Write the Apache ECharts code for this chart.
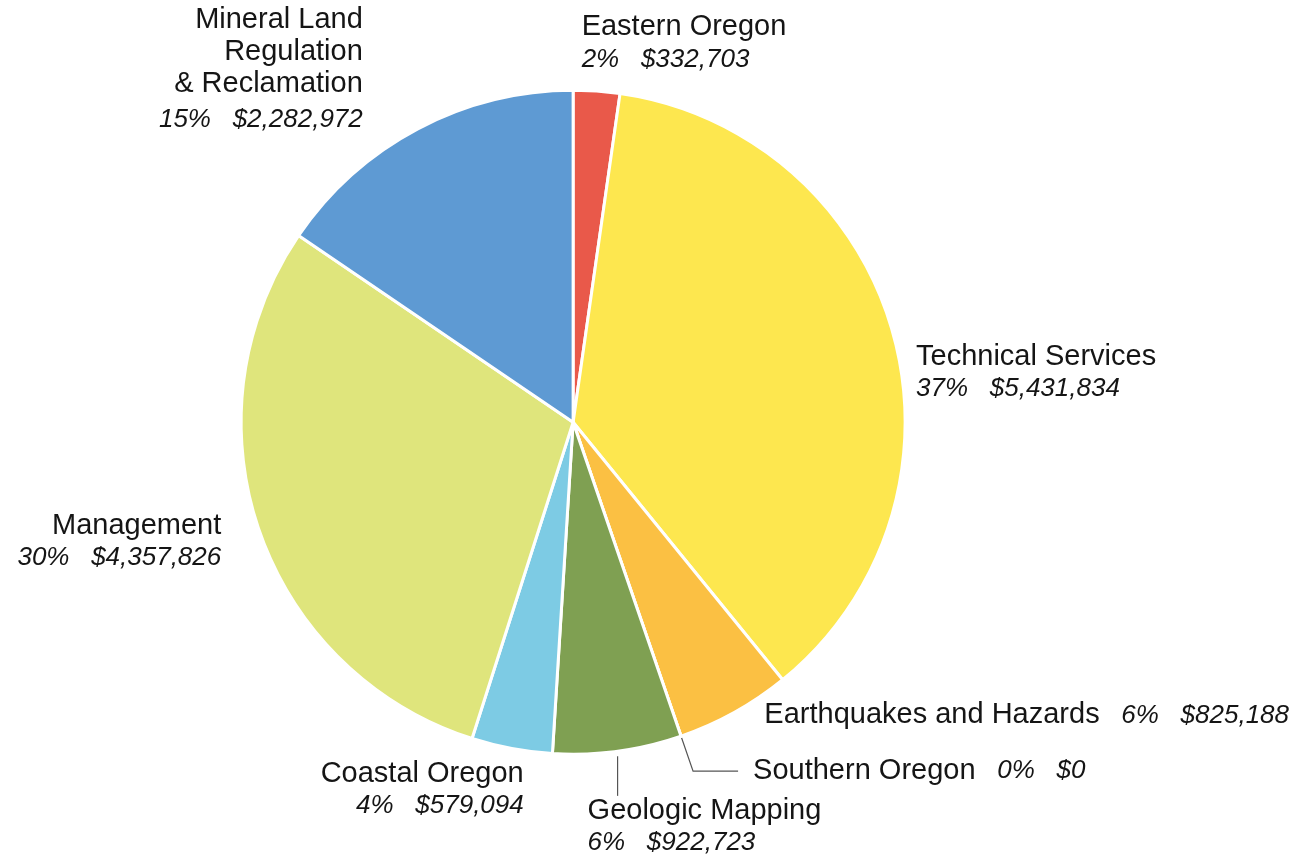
<!DOCTYPE html>
<html>
<head>
<meta charset="utf-8">
<title>Budget by program</title>
<script src="https://cdn.jsdelivr.net/npm/echarts@6/dist/echarts.min.js"></script>
<style>
  html, body { margin: 0; padding: 0; background: #fff; }
  #chart { width: 1304px; height: 860px; }
</style>
</head>
<body>
<div id="chart"></div>
<script>
// slices, clockwise from 12 o'clock
var categories = ['Eastern Oregon', 'Technical Services', 'Earthquakes and Hazards', 'Southern Oregon',
                  'Geologic Mapping', 'Coastal Oregon', 'Management', 'Mineral Land\nRegulation\n& Reclamation'];
var amounts = [332703, 5431834, 825188, 0, 922723, 579094, 4357826, 2282972];

var sliceColors = ['#E9594A', '#FDE74F', '#FBC043', '#FBC043', '#7FA052', '#7DCBE4', '#DFE57C', '#5E9AD3'];
// label nudges [dx, dy] from the default outside spot
var labelOffsets = [[-20, -47], [18, 40], [25, 3], [10, 0], [-41, 32], [17, 42], [-33, 12], [-50, -54]];
var inlineLabel = [false, false, true, true, false, false, false, false];
var leaderLines = [null, null, null, [37, 45], [45, 0], null, null, null];

var total = amounts.reduce(function (a, b) { return a + b; }, 0);

var seriesData = [];
for (var i = 0; i < categories.length; i++) {
    var item = {
        name: categories[i],
        value: amounts[i],
        itemStyle: { color: sliceColors[i] }
    };
    if (leaderLines[i]) {
        item.labelLine = { show: true, length: leaderLines[i][0], length2: leaderLines[i][1] };
    }
    seriesData.push(item);
}

function fmtLabel(p) {
    var idx = p.dataIndex;
    var pct = Math.round(amounts[idx] / total * 100) + '%';
    var money = '$' + amounts[idx].toLocaleString('en-US');
    var nameLines = categories[idx].split('\n').map(function (s) { return '{n|' + s + '}'; }).join('\n');
    if (inlineLabel[idx]) {
        return nameLines + '{v|   ' + pct + '   ' + money + '}';
    }
    var vs = categories[idx].indexOf('\n') >= 0 ? 'vt' : 'v';
    return nameLines + '\n{' + vs + '|' + pct + '   ' + money + '}';
}

var mychart = echarts.init(document.getElementById('chart'));

var fontFam = '"Liberation Sans", Arial, sans-serif';

var option = {
    animation: false,
    backgroundColor: '#fff',
    series: [
        {
            type: 'pie',
            center: ['43.95%', '49.1%'],
            radius: 332,
            startAngle: 90,
            clockwise: true,
            avoidLabelOverlap: false,
            data: seriesData,
            itemStyle: {
                borderColor: '#fff',
                borderWidth: 3
            },
            label: {
                show: true,
                position: 'outside',
                formatter: fmtLabel,
                fontFamily: fontFam,
                color: '#151515',
                rich: {
                    n: { fontSize: 29, lineHeight: 32, color: '#151515', fontFamily: fontFam },
                    v: { fontSize: 26, lineHeight: 32, fontStyle: 'italic', color: '#151515', fontFamily: fontFam },
                    vt: { fontSize: 26, lineHeight: 40, fontStyle: 'italic', color: '#151515', fontFamily: fontFam }
                }
            },
            labelLine: {
                show: false,
                length: 0,
                length2: 0,
                smooth: false,
                lineStyle: { color: '#555', width: 1.2 }
            },
            emphasis: { disabled: true }
        }
    ]
};

option.series[0].labelLayout = function (params) {
    var r = params.labelRect;
    var idx = params.dataIndex;
    var off = labelOffsets[idx];
    var ax = params.align === 'right' ? r.x + r.width : r.x;
    var ay = r.y + r.height / 2;
    var out = { x: ax + off[0], y: ay + off[1] };
    var pts = params.labelLinePoints;
    if (pts) {
        if (leaderLines[idx] && leaderLines[idx][1] === 0) {
            // straight drop under the slice, a little off the rim
            out.labelLinePoints = [[pts[0][0], pts[0][1] + 5], [pts[0][0], pts[1][1]], [pts[0][0], pts[1][1]]];
        } else {
            out.labelLinePoints = pts;
        }
    }
    return out;
};

mychart.setOption(option);

window.addEventListener('resize', function () {
    mychart.resize();
});
</script>
</body>
</html>
